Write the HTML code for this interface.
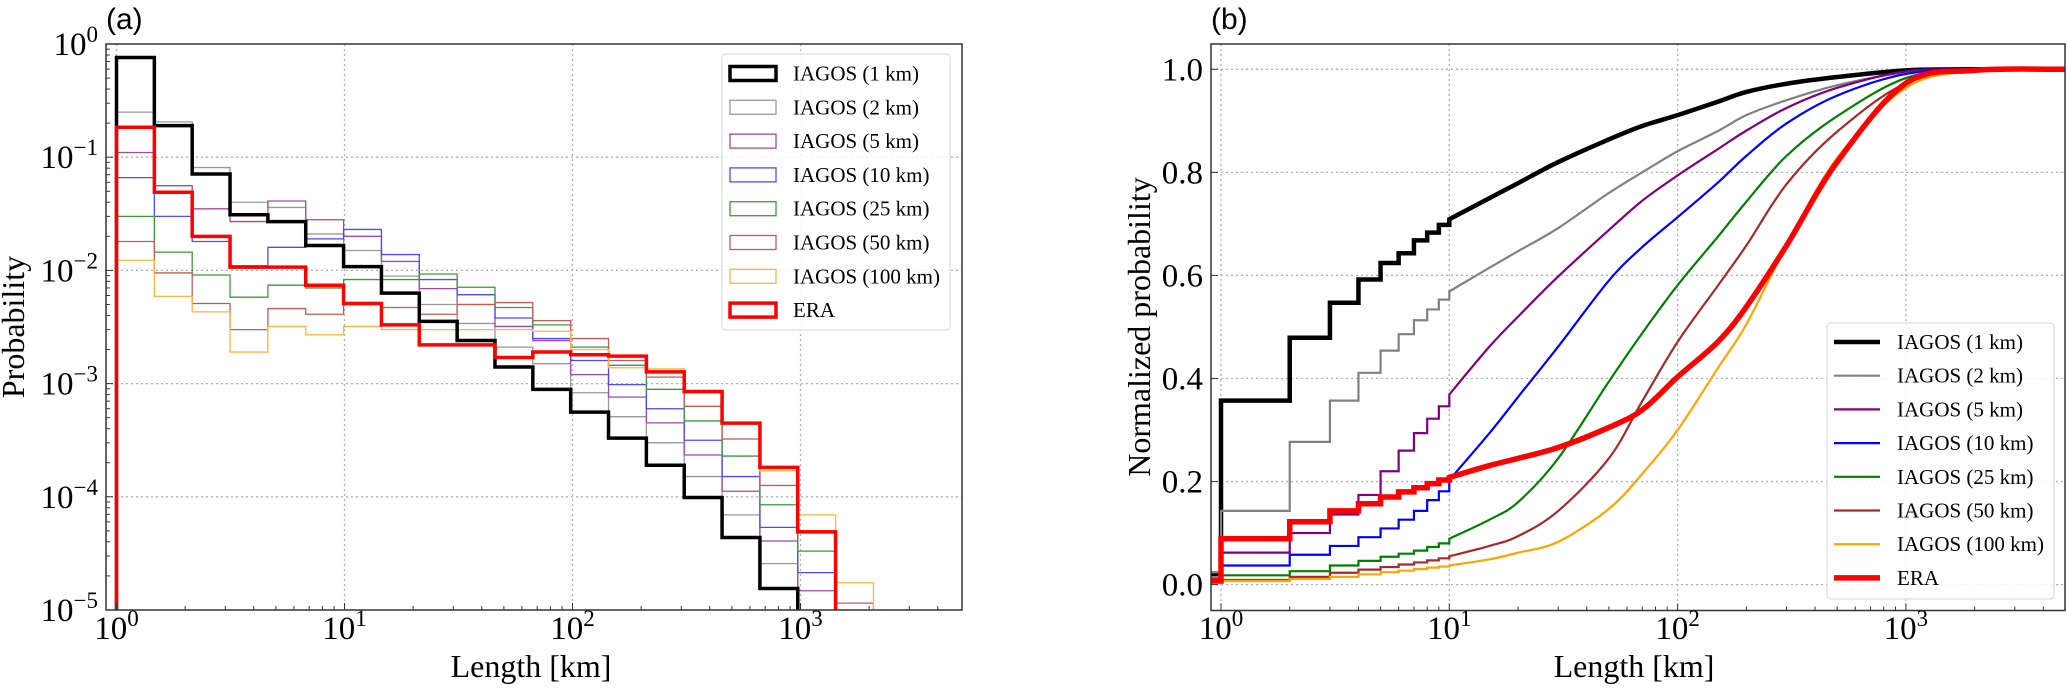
<!DOCTYPE html>
<html><head><meta charset="utf-8"><style>
html,body{margin:0;padding:0;background:#fff;}
svg text{font-family:"Liberation Serif",serif;}
</style></head><body>
<svg id="fig" width="2067" height="687" viewBox="0 0 2067 687" xmlns="http://www.w3.org/2000/svg"></svg>
<script>
// ---------- data: panel (a) histograms (probability per bin) ----------
const binStep = 0.166; // log10 width of bins, first edge at 1 km
const h1km   = [0.76,0.19,0.071,0.031,0.027,0.0166,0.0108,0.0063,0.00355,0.0024,0.0014,0.00089,0.00056,0.00033,0.00019,0.0000985,0.0000437,0.0000155];
const h2km   = [0.25,0.205,0.081,0.04,0.036,0.021,0.015,0.0089,0.005,0.0034,0.0021,0.0015,0.00083,0.00051,0.0003,0.000151,0.0000692,0.0000257];
const h5km   = [0.11,0.056,0.035,0.027,0.041,0.028,0.02,0.012,0.0069,0.005,0.0032,0.0024,0.0012,0.00076,0.00045,0.000234,0.000112,0.0000407,0.0000148];
const h10km  = [0.066,0.03,0.018,0.011,0.016,0.019,0.023,0.0138,0.0083,0.0061,0.0038,0.0025,0.0016,0.00098,0.0006,0.000316,0.000151,0.0000537,0.0000214];
const h25km  = [0.03,0.0145,0.0091,0.0058,0.0074,0.007,0.0083,0.0083,0.0093,0.0071,0.0047,0.0033,0.0021,0.00145,0.00089,0.000468,0.000229,0.0000851,0.0000331];
const h50km  = [0.018,0.0095,0.0051,0.003,0.0046,0.0041,0.0052,0.0047,0.0041,0.005,0.0052,0.0036,0.0025,0.0016,0.00114,0.00063,0.000324,0.000126,0.00005,0.0000115];
const h100km = [0.0123,0.0059,0.0043,0.0019,0.0032,0.0027,0.0032,0.003,0.003,0.003,0.003,0.0029,0.002,0.00138,0.00135,0.00087,0.00045,0.00017,0.0000692,0.0000174];
const hERA   = [0.184,0.049,0.02,0.0107,0.0107,0.0074,0.0051,0.0033,0.0022,0.0022,0.0017,0.0019,0.0018,0.00175,0.00127,0.00085,0.000447,0.000182,0.0000490];

// ---------- data: panel (b) cumulative distributions ----------
const cdfX = [0.9,1,2,3,4,5,6,7,8,9,10,15,20,30,50,70,100,150,200,300,500,1000,2000,5000];
const c1km   = [0.02,0.357,0.479,0.547,0.592,0.624,0.643,0.668,0.683,0.698,0.709,0.75,0.779,0.82,0.864,0.89,0.911,0.937,0.956,0.972,0.985,0.998,1,1];
const c2km   = [0.024,0.143,0.277,0.357,0.411,0.454,0.486,0.513,0.534,0.553,0.569,0.615,0.647,0.692,0.76,0.80,0.841,0.88,0.911,0.94,0.969,0.994,1,1];
const c5km   = [0.012,0.062,0.10,0.136,0.174,0.22,0.26,0.294,0.322,0.346,0.369,0.462,0.52,0.598,0.688,0.745,0.794,0.845,0.881,0.925,0.964,0.996,1,1];
const c10km  = [0.008,0.037,0.058,0.075,0.092,0.109,0.126,0.143,0.164,0.181,0.203,0.294,0.364,0.462,0.59,0.655,0.713,0.78,0.832,0.895,0.949,0.991,1,1];
const c25km  = [0.006,0.018,0.026,0.037,0.046,0.054,0.06,0.066,0.073,0.08,0.089,0.126,0.16,0.245,0.394,0.488,0.581,0.675,0.743,0.832,0.909,0.983,1,1];
const c50km  = [0.005,0.009,0.015,0.023,0.029,0.034,0.039,0.043,0.047,0.051,0.055,0.075,0.094,0.143,0.245,0.356,0.471,0.58,0.658,0.777,0.879,0.973,0.998,1];
const c100km = [0.004,0.007,0.011,0.015,0.02,0.024,0.027,0.03,0.033,0.035,0.037,0.049,0.062,0.083,0.147,0.215,0.30,0.42,0.505,0.658,0.828,0.964,0.997,1];
const cERA   = [0.007,0.089,0.122,0.143,0.157,0.17,0.18,0.188,0.196,0.203,0.208,0.231,0.245,0.266,0.305,0.339,0.403,0.471,0.539,0.658,0.82,0.973,0.998,1];

const legendLabels = ["IAGOS (1 km)","IAGOS (2 km)","IAGOS (5 km)","IAGOS (10 km)","IAGOS (25 km)","IAGOS (50 km)","IAGOS (100 km)","ERA"];
const xTickExp = [0,1,2,3];
const yTickExpA = [0,-1,-2,-3,-4,-5];
const yTickB = [0.0,0.2,0.4,0.6,0.8,1.0];

const NS="http://www.w3.org/2000/svg";
const svg=document.getElementById('fig');
function mk(tag,attrs,parent){const e=document.createElementNS(NS,tag);for(const k in attrs)e.setAttribute(k,attrs[k]);(parent||svg).appendChild(e);return e;}

const A={L:106,R:962,T:44,B:610,x1:116.5,dec:228};
const Bp={L:1211,R:2065,T:44,B:610.5,x1:1221,dec:228.3};
const xA=v=>A.x1+Math.log10(v)*A.dec;
const yA=v=>A.T+(-Math.log10(v))*113.2;
const xB=v=>Bp.x1+Math.log10(v)*Bp.dec;
const yB=v=>584.6-v*515.3;

function sup(g,x,y,base,exp,anchor){
  const t=mk('text',{x:x,y:y,'font-size':33,'text-anchor':anchor,fill:'#000'},g);
  t.appendChild(document.createTextNode(base));
  const s=mk('tspan',{'font-size':23,dy:-13},t);s.textContent=exp;
  return t;
}
function frame(P,xf,name){
  const g=mk('g',{});
  
  
  xTickExp.forEach(e=>{const x=xf(Math.pow(10,e));mk('line',{x1:x,x2:x,y1:P.T,y2:P.B,stroke:'#b0b0b0','stroke-width':1.3,'stroke-dasharray':'2,3'},g);});
  return g;
}

// ----- Panel A -----
const gA=frame(A,xA,'panel-a');
yTickExpA.forEach(e=>{const y=yA(Math.pow(10,e));if(e<0&&e>-5)mk('line',{x1:A.L,x2:A.R,y1:y,y2:y,stroke:'#b0b0b0','stroke-width':1.3,'stroke-dasharray':'2,3'},gA);});
const histSeries=[
 [h1km,'#000',3.5],[h2km,'#999',1.3],[h5km,'#a347a3',1.3],[h10km,'#4a4aff',1.3],
 [h25km,'#3a9a3a',1.3],[h50km,'#c25a5a',1.3],[h100km,'#ffb340',1.3],[hERA,'#ff0000',3.5]];
const hNames=['hist-1km','hist-2km','hist-5km','hist-10km','hist-25km','hist-50km','hist-100km','hist-era'];
const drawOrder=[1,2,3,4,5,6,0,7];
drawOrder.forEach(i=>{
  const [vals,col,w]=histSeries[i];
  let d='M'+xA(1)+','+A.B;
  vals.forEach((v,k)=>{const x0=xA(Math.pow(10,k*binStep)),x1=xA(Math.pow(10,(k+1)*binStep));const y=yA(v);d+=' L'+x0+','+y+' L'+x1+','+y;});
  d+=' L'+xA(Math.pow(10,vals.length*binStep))+','+A.B;
  const p=mk('path',{d:d,fill:'none',stroke:col,'stroke-width':w,'stroke-linejoin':'miter'},gA);
  
  
});
mk('rect',{x:A.L,y:A.T,width:A.R-A.L,height:A.B-A.T,fill:'none',stroke:'#333','stroke-width':1.5},gA);
for(let e=0;e<=3;e++){for(let m=1;m<10;m++){const v=m*Math.pow(10,e);if(Math.log10(v)>3.69)break;const x=xA(v);mk('line',{x1:x,x2:x,y1:A.B,y2:A.B-(m==1?7:4),stroke:'#333','stroke-width':1},gA);}}
for(let e=-5;e<0;e++){for(let m=1;m<10;m++){const y=yA(m*Math.pow(10,e));mk('line',{x1:A.L,x2:A.L+(m==1?7:4),y1:y,y2:y,stroke:'#333','stroke-width':1},gA);}}
xTickExp.forEach(e=>{const t=sup(gA,xA(Math.pow(10,e)),639,'10',String(e),'middle');});
yTickExpA.forEach(e=>{const t=sup(gA,98,yA(Math.pow(10,e))+11,'10',e===0?'0':'\u2212'+(-e),'end');});
let t=mk('text',{x:531,y:677,'font-size':32,'text-anchor':'middle'});t.textContent='Length [km]';

t=mk('text',{x:0,y:0,'font-size':32,'text-anchor':'middle',transform:'translate(24,327) rotate(-90)'});t.textContent='Probability';

t=mk('text',{x:106,y:29,'font-size':30,style:'font-family:"Liberation Sans",sans-serif'});t.textContent='(a)';

const lgA=mk('g',{});


mk('rect',{x:722,y:54,width:228,height:276,rx:4,fill:'#fff','fill-opacity':0.85,stroke:'#ddd','stroke-width':1.2},lgA);
legendLabels.forEach((lab,i)=>{
  const y=73.5+i*33.8;const s=histSeries[i];
  const e=mk('g',{},lgA);
  
  
  mk('rect',{x:730,y:y-7,width:46,height:14,fill:'none',stroke:s[1],'stroke-width':s[2]},e);
  const tt=mk('text',{x:793,y:y+7,'font-size':21},e);tt.textContent=lab;
});

// ----- Panel B -----
const gB=frame(Bp,xB,'panel-b');
yTickB.forEach(v=>{const y=yB(v);mk('line',{x1:Bp.L,x2:Bp.R,y1:y,y2:y,stroke:'#b0b0b0','stroke-width':1.3,'stroke-dasharray':'2,3'},gB);});
const cdfSeries=[[c1km,'#000',4.5],[c2km,'#808080',2.2],[c5km,'#800080',2.2],[c10km,'#0000ff',2.2],[c25km,'#008000',2.2],[c50km,'#a52a2a',2.2],[c100km,'#ffa500',2.2],[cERA,'#ff0000',5.5]];
const cNames=['cdf-1km','cdf-2km','cdf-5km','cdf-10km','cdf-25km','cdf-50km','cdf-100km','cdf-era'];
cdfSeries.forEach((s,i)=>{
  const [vals,col,w]=s;
  let d='M'+(Bp.L)+','+yB(vals[0]);
  let k0=0;
  for(let k=1;k<cdfX.length;k++){
    if(cdfX[k]<=10){const x=xB(cdfX[k]);d+=' L'+x+','+yB(vals[k-1])+' L'+x+','+yB(vals[k]);k0=k;}
  }
  const P=[];for(let k=k0;k<cdfX.length;k++)P.push([xB(cdfX[k]),yB(vals[k])]);
  for(let j=0;j<P.length-1;j++){
    const p0=P[Math.max(0,j-1)],p1=P[j],p2=P[j+1],p3=P[Math.min(P.length-1,j+2)];
    const c1=[p1[0]+(p2[0]-p0[0])/6,p1[1]+(p2[1]-p0[1])/6];
    const c2=[p2[0]-(p3[0]-p1[0])/6,p2[1]-(p3[1]-p1[1])/6];
    d+=' C'+c1[0]+','+c1[1]+' '+c2[0]+','+c2[1]+' '+p2[0]+','+p2[1];
  }
  d+=' L'+Bp.R+','+yB(vals[vals.length-1]);
  const p=mk('path',{d:d,fill:'none',stroke:col,'stroke-width':w,'stroke-linejoin':'miter'},gB);
  
  
});
mk('rect',{x:Bp.L,y:Bp.T,width:Bp.R-Bp.L,height:Bp.B-Bp.T,fill:'none',stroke:'#333','stroke-width':1.5},gB);
for(let e=0;e<=3;e++){for(let m=1;m<10;m++){const v=m*Math.pow(10,e);if(Math.log10(v)>3.69)break;const x=xB(v);mk('line',{x1:x,x2:x,y1:Bp.B,y2:Bp.B-(m==1?7:4),stroke:'#333','stroke-width':1},gB);}}
yTickB.forEach(v=>{const y=yB(v);mk('line',{x1:Bp.L,x2:Bp.L+7,y1:y,y2:y,stroke:'#333','stroke-width':1},gB);
  const tt=mk('text',{x:1203,y:y+11,'font-size':33,'text-anchor':'end'},gB);tt.textContent=v.toFixed(1);
  });
xTickExp.forEach(e=>{const t=sup(gB,xB(Math.pow(10,e)),639,'10',String(e),'middle');});
t=mk('text',{x:1634,y:677,'font-size':32,'text-anchor':'middle'});t.textContent='Length [km]';

t=mk('text',{x:0,y:0,'font-size':32,'text-anchor':'middle',transform:'translate(1150,327) rotate(-90)'});t.textContent='Normalized probability';

t=mk('text',{x:1211,y:29,'font-size':30,style:'font-family:"Liberation Sans",sans-serif'});t.textContent='(b)';

const lgB=mk('g',{});


mk('rect',{x:1827,y:323,width:227,height:276,rx:4,fill:'#fff','fill-opacity':0.85,stroke:'#ddd','stroke-width':1.2},lgB);
legendLabels.forEach((lab,i)=>{
  const y=342+i*33.7;const s=cdfSeries[i];
  const e=mk('g',{},lgB);
  
  
  mk('line',{x1:1834,x2:1880,y1:y,y2:y,stroke:s[1],'stroke-width':s[2]},e);
  const tt=mk('text',{x:1897,y:y+7,'font-size':21},e);tt.textContent=lab;
});
</script>
</body></html>
